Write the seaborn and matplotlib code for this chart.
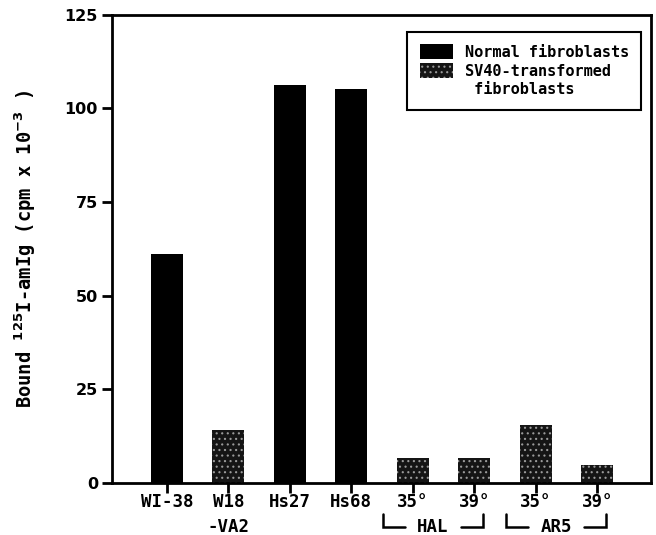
import matplotlib
matplotlib.use("Agg")
import matplotlib.pyplot as plt
import seaborn as sns
import pandas as pd
from matplotlib.patches import Patch
from matplotlib.lines import Line2D
import matplotlib.transforms as mtransforms

# data
bar_ids = ["WI-38", "W18-VA2", "Hs27", "Hs68", "HAL35", "HAL39", "AR5_35", "AR5_39"]
tick_labels = ["WI-38", "W18\n-VA2", "Hs27", "Hs68", "35°", "39°", "35°", "39°"]
bound = [61.0, 14.0, 106.3, 105.1, 6.6, 6.7, 15.5, 4.8]
cell_type = ["Normal", "SV40", "Normal", "Normal", "SV40", "SV40", "SV40", "SV40"]
groups = [("HAL", 4, 5), ("AR5", 6, 7)]
y_ticks = [0, 25, 50, 75, 100, 125]

MONO = "DejaVu Sans Mono"

sns.set_theme(style="white")
plt.rcParams.update({
    "font.family": [MONO, "DejaVu Sans"],
    "font.weight": "bold",
    "mathtext.fontset": "dejavusans",
    "hatch.linewidth": 0.8,
    "axes.edgecolor": "black",
    "text.color": "black",
    "axes.labelcolor": "black",
    "xtick.color": "black",
    "ytick.color": "black",
})

df = pd.DataFrame({"bar": bar_ids, "bound": bound, "type": cell_type})

fig = plt.figure(figsize=(6.56, 5.35), dpi=100)
ax = fig.add_axes([0.170, 0.098, 0.822, 0.874])

sns.barplot(data=df, x="bar", y="bound", hue="type", hue_order=["Normal", "SV40"],
            order=bar_ids, palette=["black", "black"], dodge=False, width=0.52,
            linewidth=0, legend=False, ax=ax)

# stipple the SV40 bars
for p in ax.containers[1]:
    p.set_facecolor("#151515")
    p.set_edgecolor("#9a9a9a")
    p.set_hatch("...")
    p.set_linewidth(0)

ax.set_xlim(-0.9, 7.87)
ax.set_ylim(0, 125)
ax.set_yticks(y_ticks)
ax.set_yticklabels([str(t) for t in y_ticks], family="DejaVu Sans", fontsize=11.5, fontweight="bold")
ax.set_xticks(range(len(tick_labels)))
ax.set_xticklabels(tick_labels, fontsize=12.5, fontweight="bold", linespacing=1.45)
ax.set_xlabel("")

for s in ax.spines.values():
    s.set_linewidth(2)
    s.set_color("black")
ax.tick_params(axis="both", direction="out", length=7.2, width=2, color="black",
               bottom=True, left=True)
ax.tick_params(axis="x", pad=0.5)
ax.tick_params(axis="y", pad=2.5)

ax.set_ylabel(r"Bound $^{\mathbf{125}}$I-amIg (cpm x 10$^{\mathbf{-3}}$ )",
              fontsize=13.5, fontweight="bold")
ax.yaxis.set_label_coords(-0.137, 0.5)

# group brackets under the temperature labels
trans = mtransforms.blended_transform_factory(ax.transData, ax.transAxes)
y_line, y_top, gap = -0.095, -0.067, 0.45
for name, first, last in groups:
    left, right = first - 0.48, last + 0.14
    mid = (left + right) / 2
    ax.text(mid, -0.094, name, transform=trans, ha="center", va="center",
            fontsize=12.5, fontweight="bold", clip_on=False)
    for xs, ys in (([left, left, mid - gap], [y_top, y_line, y_line]),
                   ([mid + gap, right, right], [y_line, y_line, y_top])):
        ax.add_line(Line2D(xs, ys, transform=trans, color="black", lw=1.8,
                           clip_on=False, solid_joinstyle="miter"))

handles = [Patch(facecolor="black", edgecolor="black", linewidth=0),
           Patch(facecolor="#151515", edgecolor="#9a9a9a", hatch="...", linewidth=0),
           Patch(facecolor="none", edgecolor="none")]
leg = ax.legend(handles, ["Normal fibroblasts", "SV40-transformed", " fibroblasts"],
                loc="upper right", bbox_to_anchor=(0.982, 0.964), borderaxespad=0,
                fancybox=False, frameon=True, edgecolor="black", framealpha=1,
                prop={"family": MONO, "weight": "bold", "size": 11},
                handlelength=2.2, handleheight=1.15, handletextpad=0.75,
                labelspacing=0.2, borderpad=0.8)
leg.get_frame().set_linewidth(1.5)

fig.savefig("out.png", dpi=100)
